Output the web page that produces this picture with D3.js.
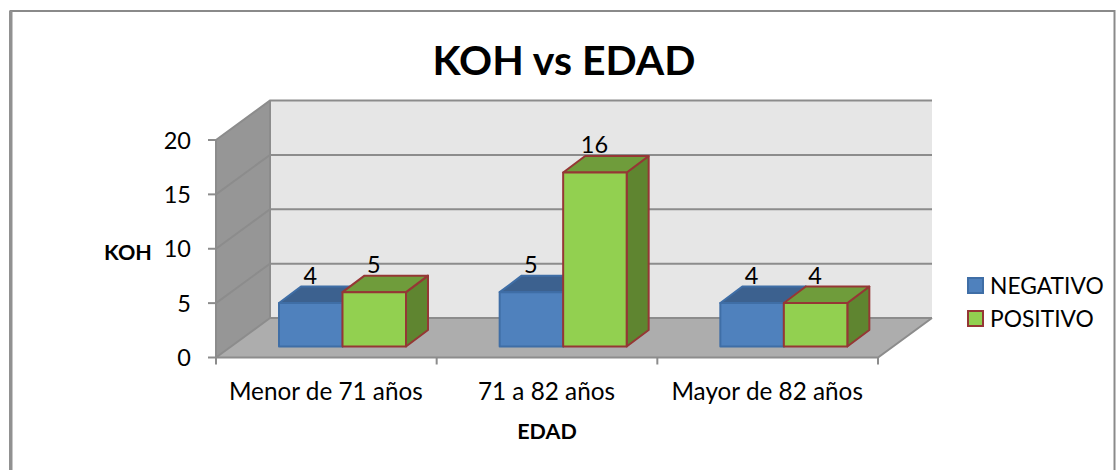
<!DOCTYPE html>
<html><head><meta charset="utf-8">
<script src="https://cdn.jsdelivr.net/npm/d3@7/dist/d3.min.js"></script>
<style>html,body{margin:0;padding:0;background:#fff}svg{display:block}text{font-family:Lato,"Open Sans",sans-serif;fill:#000}</style>
</head><body><svg id="c" width="1116" height="470"></svg>
<script>
const categories=["Menor de 71 años","71 a 82 años","Mayor de 82 años"];
const seriesNames=["NEGATIVO","POSITIVO"];
const negativo=[4,5,4];
const positivo=[5,16,4];
const yTicks=[0,5,10,15,20];
const titleText="KOH vs EDAD", xTitle="EDAD", yTitle="KOH";

const svg=d3.select("#c");
const x=d3.scaleBand().domain(categories).range([216,878]);
const y=d3.scaleLinear().domain([0,20]).range([357.5,140]);
const inner=d3.scaleBand().domain(seriesNames).range([63,190]);
const D={x:54,y:-39.5};      // wall depth
const B={x:22,y:-16.5};      // bar depth
const baseShift={x:0,y:-11}; // bar front offset on the floor
const line=d3.line();
const x0=x.range()[0],x1=x.range()[1];
const poly=(pts,fill,stroke,sw)=>svg.append("path").attr("d",line(pts)+"Z").attr("fill",fill).attr("stroke",stroke||"none").attr("stroke-width",sw||0).attr("stroke-linejoin","round");
const gridC="#8c8c8c";

// frame
svg.append("rect").attr("x",10.5).attr("y",11).attr("width",1104).attr("height",470).attr("fill","#fff").attr("stroke","#8a8a8a").attr("stroke-width",2);
svg.append("rect").attr("x",9).attr("y",11).attr("width",3.5).attr("height",460).attr("fill","#919191");

// walls
poly([[x0+D.x,y(20)+D.y],[x1+D.x,y(20)+D.y],[x1+D.x,y(0)+D.y],[x0+D.x,y(0)+D.y]],"#e6e6e6");
poly([[x0,y(0)],[x0,y(20)],[x0+D.x,y(20)+D.y],[x0+D.x,y(0)+D.y]],"#969696");
poly([[x0,y(0)],[x1,y(0)],[x1+D.x,y(0)+D.y],[x0+D.x,y(0)+D.y]],"#adadad");
// gridlines
yTicks.forEach(t=>{
  svg.append("path").attr("d",line([[x0,y(t)],[x0+D.x,y(t)+D.y],...(t===0?[]:[[x1+D.x,y(t)+D.y]])])).attr("fill","none").attr("stroke",gridC).attr("stroke-width",2);
});
svg.append("path").attr("d",line([[x0+D.x,y(20)+D.y],[x0+D.x,y(0)+D.y],[x1+D.x,y(0)+D.y]])).attr("fill","none").attr("stroke",gridC).attr("stroke-width",2);
svg.append("path").attr("d",line([[x0,y(20)],[x0,y(0)],[x1,y(0)],[x1+D.x,y(0)+D.y]])).attr("fill","none").attr("stroke",gridC).attr("stroke-width",2);
// axis ticks
yTicks.forEach(t=>{
  svg.append("line").attr("x1",x0-8).attr("x2",x0).attr("y1",y(t)).attr("y2",y(t)).attr("stroke",gridC).attr("stroke-width",2);
  svg.append("text").attr("x",191).attr("y",y(t)+8.5).attr("text-anchor","end").attr("font-size",23.5).text(t);
});
[...categories.map(c=>x(c)),x1].forEach(px=>svg.append("line").attr("x1",px).attr("x2",px).attr("y1",y(0)).attr("y2",y(0)+7).attr("stroke",gridC).attr("stroke-width",2));
categories.forEach(c=>svg.append("text").attr("x",x(c)+x.bandwidth()/2-0.5).attr("y",400).attr("text-anchor","middle").attr("font-size",24.3).text(c));

// bars
const styles={NEGATIVO:{front:"#4f81bd",top:"#3c618f",side:"#3c618f",stroke:"#3f6ea6"},POSITIVO:{front:"#92d050",top:"#6f9c3b",side:"#5f8530",stroke:"#953735"}};
const drawBar=(c,s,v)=>{
  const st=styles[s];
  const l=x(c)+inner(s),r=l+inner.bandwidth(),b=y(0)+baseShift.y,t=y(v)+baseShift.y;
  poly([[r,b],[r,t],[r+B.x,t+B.y],[r+B.x,b+B.y]],st.side,st.stroke,2);
  poly([[l,t],[r,t],[r+B.x,t+B.y],[l+B.x,t+B.y]],st.top,st.stroke,2);
  poly([[l,b],[r,b],[r,t],[l,t]],st.front,st.stroke,2);
  svg.append("text").attr("x",(l+r)/2+B.x/2-11.5).attr("y",t+B.y-3).attr("text-anchor","middle").attr("font-size",23.5).text(v);
};
categories.forEach((c,i)=>{drawBar(c,"NEGATIVO",negativo[i]);drawBar(c,"POSITIVO",positivo[i]);});

// titles
svg.append("text").attr("x",564).attr("y",75).attr("text-anchor","middle").attr("font-size",41).attr("font-weight",700).text(titleText);
svg.append("text").attr("x",128).attr("y",260).attr("text-anchor","middle").attr("font-size",21.5).attr("font-weight",700).text(yTitle);
svg.append("text").attr("x",547).attr("y",439).attr("text-anchor","middle").attr("font-size",21.5).attr("font-weight",700).text(xTitle);

// legend
seriesNames.forEach((s,i)=>{
  const st=styles[s],ly=278+i*33;
  svg.append("rect").attr("x",968).attr("y",ly).attr("width",15).attr("height",15).attr("fill",st.front).attr("stroke",st.stroke).attr("stroke-width",2);
  svg.append("text").attr("x",990).attr("y",ly+15.5).attr("font-size",22.8).text(s);
});
</script></body></html>
